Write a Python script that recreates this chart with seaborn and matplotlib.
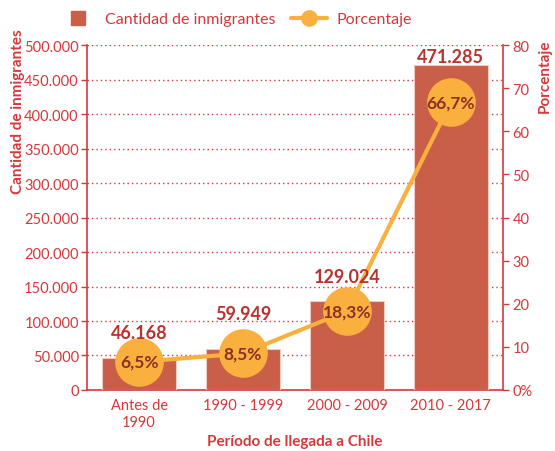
import matplotlib
matplotlib.use("Agg")
import matplotlib.pyplot as plt
import seaborn as sns
import pandas as pd
from matplotlib.lines import Line2D

periods = ["Antes de\n1990", "1990 - 1999", "2000 - 2009", "2010 - 2017"]
inmigrantes = [46168, 59949, 129024, 471285]
porcentaje = [6.5, 8.5, 18.3, 66.7]
inm_labels = ["46.168", "59.949", "129.024", "471.285"]
pct_labels = ["6,5%", "8,5%", "18,3%", "66,7%"]
left_ticks = [0, 50000, 100000, 150000, 200000, 250000, 300000, 350000, 400000, 450000, 500000]
left_ticklabels = ["0", "50.000", "100.000", "150.000", "200.000", "250.000",
                   "300.000", "350.000", "400.000", "450.000", "500.000"]
right_ticks = [0, 10, 20, 30, 40, 50, 60, 70, 80]
right_ticklabels = ["0%", "10", "20", "30", "40", "50", "60", "70", "80"]

# label placement (y in data units of left axis)
label_y = [84000, 111600, 165200, 484000]

BAR = "#C95F48"
ORANGE = "#FAB03F"
RED = "#D5383B"
DARK = "#B8322F"
CIRC = "#8E2F25"

sns.set_theme(style="white")
plt.rcParams['font.family'] = ['Lato', 'DejaVu Sans']

df = pd.DataFrame({"periodo": periods, "inmigrantes": inmigrantes, "porcentaje": porcentaje})

fig = plt.figure(figsize=(5.55, 4.52), dpi=100)
ax = fig.add_axes([0.157, 0.135, 0.749, 0.763])

sns.barplot(data=df, x="periodo", y="inmigrantes", color=BAR, saturation=1,
            width=0.71, ax=ax, edgecolor="#F2C9BE", linewidth=0.8, zorder=3)
ax.set_ylim(0, 500000)
ax.set_xlim(-0.5, 3.5)
ax.set_yticks(left_ticks)
ax.set_yticklabels(left_ticklabels)
for y in left_ticks[1:]:
    ax.axhline(y, color=RED, linestyle=(0, (1.0, 2.2)), linewidth=1.0, zorder=1)

ax2 = ax.twinx()
ax2.set_ylim(0, 80)
ax2.plot(range(len(porcentaje)), porcentaje, color=ORANGE, linewidth=3,
         marker="o", markersize=34, markerfacecolor=ORANGE, markeredgecolor=ORANGE, zorder=5)
ax2.set_yticks(right_ticks)
ax2.set_yticklabels(right_ticklabels)
for i, (p, lab) in enumerate(zip(porcentaje, pct_labels)):
    ax2.text(i, p, lab, ha="center", va="center", fontsize=12.5, fontweight="bold",
             color=CIRC, zorder=7)

for i, lab in enumerate(inm_labels):
    ax2.text(i, label_y[i] / 500000 * 80, lab, ha="center", va="center", fontsize=13,
             fontweight="bold", color=DARK, zorder=6)

for a in (ax, ax2):
    a.spines["top"].set_visible(False)
    for s in ["left", "right", "bottom"]:
        a.spines[s].set_color(RED)
        a.spines[s].set_linewidth(1.2)
ax2.spines["left"].set_visible(False)
ax2.spines["bottom"].set_visible(False)
ax.spines["right"].set_visible(False)

ax.tick_params(axis="y", colors=RED, labelcolor=RED, labelsize=10.5, length=4, width=1, direction="out", pad=2, left=True)
ax.tick_params(axis="x", colors=RED, labelcolor=RED, labelsize=10.5, length=0, pad=6)
ax2.tick_params(axis="y", colors=RED, labelcolor=RED, labelsize=10.5, length=4, width=1, direction="out", pad=3, right=True)

ax.set_xlabel("Período de llegada a Chile", color=RED, fontsize=11, fontweight="bold", labelpad=4)
ax.set_ylabel("Cantidad de inmigrantes", color=RED, fontsize=11, fontweight="bold", loc="top")
ax.yaxis.label.set_va("center")
ax.yaxis.set_label_coords(-0.166, 1.05)
ax2.set_ylabel("Porcentaje", color=RED, fontsize=11, fontweight="bold", loc="top", rotation=90)
ax2.yaxis.label.set_va("center")
ax2.yaxis.set_label_coords(1.1, 1.02)

handles = [Line2D([0], [0], color=BAR, linestyle="none", marker="s", markersize=10),
           Line2D([0], [0], color=ORANGE, linewidth=3, marker="o", markersize=11)]
fig.legend(handles, ["Cantidad de inmigrantes", "Porcentaje"], loc="center",
           bbox_to_anchor=(0.425, 0.955), ncol=2, frameon=False, fontsize=11.5,
           labelcolor=RED, handlelength=2.2, columnspacing=1.0, handletextpad=0.6)

fig.savefig("out.png", dpi=100)
